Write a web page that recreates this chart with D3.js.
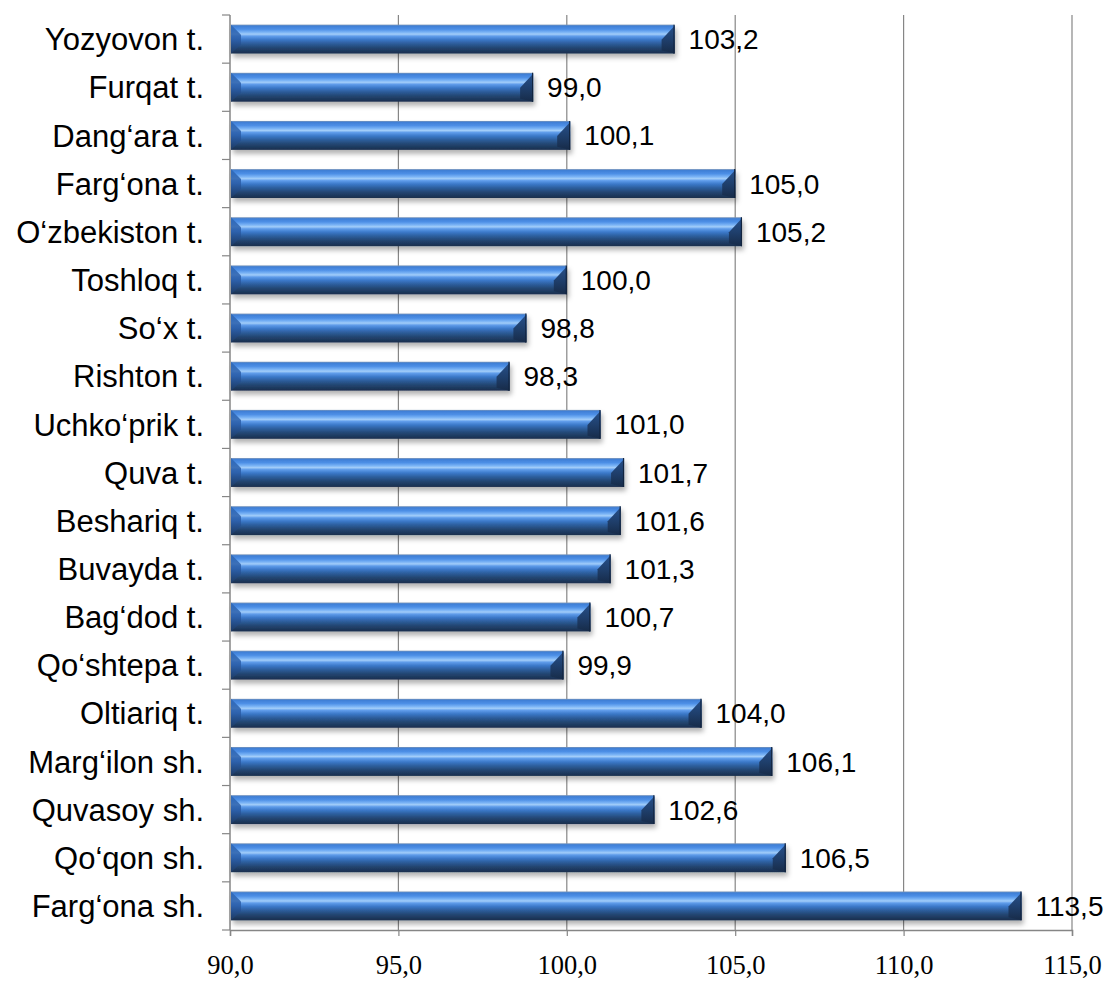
<!DOCTYPE html>
<html>
<head>
<meta charset="utf-8">
<script src="https://cdn.jsdelivr.net/npm/d3@7"></script>
<style>
  html, body { margin: 0; padding: 0; background: #fff; }
  svg { display: block; }
</style>
</head>
<body>
<svg id="chart" width="1114" height="981"></svg>
<script>
const categories = [
  "Yozyovon t.", "Furqat t.", "Dang‘ara t.", "Farg‘ona t.", "O‘zbekiston t.",
  "Toshloq t.", "So‘x t.", "Rishton t.", "Uchko‘prik t.", "Quva t.",
  "Beshariq t.", "Buvayda t.", "Bag‘dod t.", "Qo‘shtepa t.", "Oltiariq t.",
  "Marg‘ilon sh.", "Quvasoy sh.", "Qo‘qon sh.", "Farg‘ona sh."
];
const values = [
  103.2, 99.0, 100.1, 105.0, 105.2,
  100.0, 98.8, 98.3, 101.0, 101.7,
  101.6, 101.3, 100.7, 99.9, 104.0,
  106.1, 102.6, 106.5, 113.5
];
const xTicks = [90, 95, 100, 105, 110, 115];
const xDomain = [90, 115];

(function () {
const data = categories.map((c, i) => ({ cat: c, val: values[i] }));
const fmt = v => v.toFixed(1).replace(".", ",");

const svg = d3.select("#chart");
const pl = 230, pr = 1072, pt = 15, pb = 930;

const x = d3.scaleLinear().domain(xDomain).range([pl, pr]);
const y = d3.scaleBand().domain(categories).range([pt, pb])
  .paddingInner(0.4).paddingOuter(0.2);

const defs = svg.append("defs");
const face = defs.append("linearGradient").attr("id", "face")
  .attr("x1", 0).attr("y1", 0).attr("x2", 0).attr("y2", 1);
[
  [0, "#7a95b8"], [0.05, "#3f7fd6"], [0.16, "#4d8fe6"], [0.26, "#78b2f5"],
  [0.33, "#a2cdf9"], [0.40, "#5f9cea"], [0.52, "#3b78c8"], [0.64, "#2e60a0"],
  [0.80, "#234672"], [1, "#1a2e4d"]
].forEach(([o, c]) => face.append("stop").attr("offset", o).attr("stop-color", c));

const lb = defs.append("linearGradient").attr("id", "leftBevel")
  .attr("x1", 0).attr("y1", 0).attr("x2", 0).attr("y2", 1);
[[0, "#2f69b8"], [0.5, "#2a5ca6"], [1, "#1d3b66"]]
  .forEach(([o, c]) => lb.append("stop").attr("offset", o).attr("stop-color", c));

const rb = defs.append("linearGradient").attr("id", "rightBevel")
  .attr("x1", 0).attr("y1", 0).attr("x2", 0).attr("y2", 1);
[[0, "#27508a"], [0.5, "#1f3f6c"], [1, "#172b48"]]
  .forEach(([o, c]) => rb.append("stop").attr("offset", o).attr("stop-color", c));

const shadow = defs.append("filter").attr("id", "shadow")
  .attr("x", "-5%").attr("y", "-30%").attr("width", "110%").attr("height", "180%");
shadow.append("feDropShadow").attr("dx", 2).attr("dy", 4).attr("stdDeviation", 2.4)
  .attr("flood-color", "#000").attr("flood-opacity", 0.3);

// gridlines
svg.append("g").selectAll("line").data(xTicks.filter(t => t !== xDomain[0])).join("line")
  .attr("x1", d => x(d)).attr("x2", d => x(d))
  .attr("y1", pt).attr("y2", pb)
  .attr("stroke", "#868686").attr("stroke-width", 1.2);

// bottom axis
const xAxis = d3.axisBottom(x).tickValues(xTicks).tickSize(6).tickFormat(fmt);
const gx = svg.append("g").attr("transform", `translate(0,${pb})`).call(xAxis);
gx.select(".domain").attr("stroke", "#868686").attr("stroke-width", 1.5);
gx.selectAll(".tick line").attr("stroke", "#868686").attr("stroke-width", 1.2);
gx.selectAll(".tick text")
  .attr("font-family", "'Liberation Serif', 'Times New Roman', serif")
  .attr("font-size", 26.5).attr("fill", "#000")
  .attr("y", 44).attr("dy", 0);

// left axis line with band-boundary ticks
svg.append("line").attr("x1", pl).attr("x2", pl).attr("y1", pt).attr("y2", pb)
  .attr("stroke", "#868686").attr("stroke-width", 1.5);
const bounds = categories.map(c => y(c) - y.step() * y.paddingInner() / 2);
bounds.push(pb);
svg.append("g").selectAll("line").data(bounds).join("line")
  .attr("x1", pl - 8).attr("x2", pl)
  .attr("y1", d => d).attr("y2", d => d)
  .attr("stroke", "#868686").attr("stroke-width", 1.2);

// bars
const bars = svg.append("g").selectAll("g.bar").data(data).join("g").attr("class", "bar");
bars.each(function(d) {
  const g = d3.select(this);
  const x0 = x(xDomain[0]) + 1, x1 = x(d.val);
  const y0 = y(d.cat), h = y.bandwidth(), y1 = y0 + h;
  const b = 10;
  const bar = g.append("g").attr("filter", "url(#shadow)");
  bar.append("rect").attr("x", x0).attr("y", y0).attr("width", x1 - x0).attr("height", h)
    .attr("fill", "url(#face)");
  g.append("polygon")
    .attr("points", [[x0, y0], [x0 + b, y0 + b], [x0 + b, y1 - b * 0.9], [x0, y1]].map(p => p.join(",")).join(" "))
    .attr("fill", "url(#leftBevel)").attr("opacity", 0.85);
  g.append("polygon")
    .attr("points", [[x1, y0 + 1], [x1 - b - 3, y0 + b + 5], [x1 - b - 3, y1 - 3], [x1, y1]].map(p => p.join(",")).join(" "))
    .attr("fill", "url(#rightBevel)");
  g.append("line").attr("x1", x1 - 0.5).attr("x2", x1 - 0.5).attr("y1", y0).attr("y2", y1)
    .attr("stroke", "#12243f").attr("stroke-width", 1.2);
});

// value labels
svg.append("g").selectAll("text").data(data).join("text")
  .attr("x", d => x(d.val) + 14)
  .attr("y", d => y(d.cat) + y.bandwidth() / 2)
  .attr("dy", "0.36em")
  .attr("font-family", "'Liberation Sans', Arial, sans-serif")
  .attr("font-size", 28).attr("fill", "#000")
  .text(d => fmt(d.val));

// category labels
svg.append("g").selectAll("text").data(data).join("text")
  .attr("x", 204)
  .attr("y", d => y(d.cat) + y.bandwidth() / 2)
  .attr("dy", "0.36em")
  .attr("text-anchor", "end")
  .attr("font-family", "'Liberation Sans', Arial, sans-serif")
  .attr("font-size", 31).attr("fill", "#000")
  .text(d => d.cat);
})();
</script>
</body>
</html>
